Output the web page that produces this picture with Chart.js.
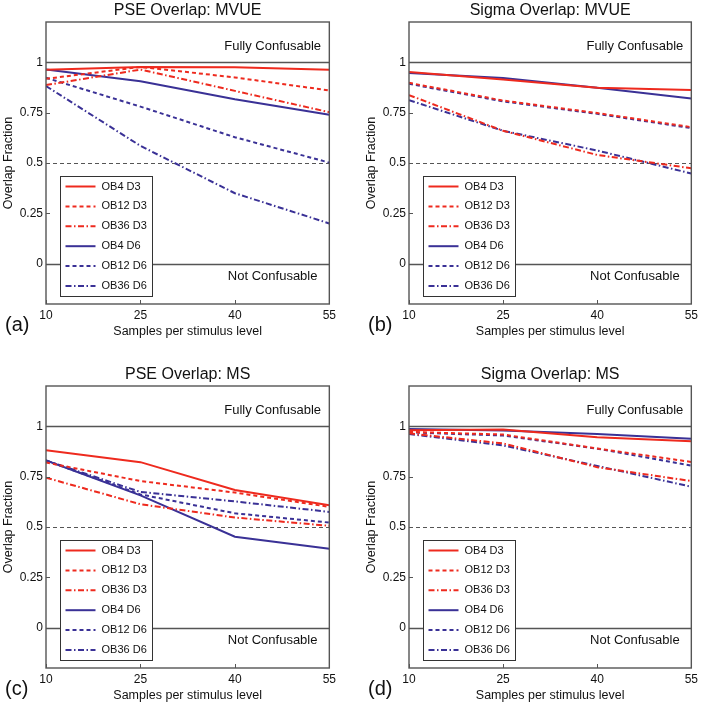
<!DOCTYPE html>
<html>
<head>
<meta charset="utf-8">
<script src="https://cdn.jsdelivr.net/npm/chart.js@4.4.1/dist/chart.umd.min.js"></script>
<style>
  body { margin: 0; background: #fff; }
  #wrap { position: relative; width: 702px; height: 708px; background: #fff; }
  canvas { position: absolute; }
</style>
</head>
<body>
<div id="wrap">
  <canvas id="pa" width="340" height="344" style="left:0px;top:0px"></canvas>
  <canvas id="pb" width="339" height="344" style="left:363px;top:0px"></canvas>
  <canvas id="pc" width="340" height="344" style="left:0px;top:364px"></canvas>
  <canvas id="pd" width="339" height="344" style="left:363px;top:364px"></canvas>
</div>
<script>
// samples per stimulus level
var xValues = [10, 25, 40, 55];
var yTickValues = [0, 0.25, 0.5, 0.75, 1];
var yTickLabels = ['0', '0.25', '0.5', '0.75', '1'];
var seriesNames = ['OB4 D3', 'OB12 D3', 'OB36 D3', 'OB4 D6', 'OB12 D6', 'OB36 D6'];

// (a) PSE Overlap: MVUE
var pseMvue = [
  [0.963, 0.977, 0.975, 0.963],
  [0.918, 0.977, 0.925, 0.86],
  [0.887, 0.964, 0.858, 0.752],
  [0.964, 0.906, 0.816, 0.74],
  [0.923, 0.78, 0.628, 0.502],
  [0.882, 0.585, 0.35, 0.2]
];
// (b) Sigma Overlap: MVUE
var sigmaMvue = [
  [0.952, 0.915, 0.873, 0.862],
  [0.898, 0.81, 0.748, 0.678],
  [0.837, 0.66, 0.54, 0.474],
  [0.947, 0.922, 0.873, 0.82],
  [0.893, 0.806, 0.744, 0.673],
  [0.812, 0.66, 0.562, 0.448]
];
// (c) PSE Overlap: MS
var pseMs = [
  [0.881, 0.822, 0.684, 0.608],
  [0.82, 0.728, 0.671, 0.6],
  [0.745, 0.613, 0.547, 0.506],
  [0.83, 0.657, 0.452, 0.392],
  [0.83, 0.662, 0.568, 0.522],
  [0.83, 0.674, 0.627, 0.575]
];
// (d) Sigma Overlap: MS
var sigmaMs = [
  [0.98, 0.984, 0.945, 0.926],
  [0.972, 0.959, 0.89, 0.823],
  [0.965, 0.915, 0.797, 0.728],
  [0.987, 0.979, 0.962, 0.938],
  [0.97, 0.954, 0.889, 0.805],
  [0.962, 0.905, 0.803, 0.70]
];

var RED = '#ee2a1e';
var BLUE = '#3a3196';
var colors = [RED, RED, RED, BLUE, BLUE, BLUE];
var dashes = [[], [4, 3], [6, 2.5, 1.5, 2.5], [], [4, 3], [6, 2.5, 1.5, 2.5]];

Chart.defaults.font.family = '"Liberation Sans", Arial, Helvetica, sans-serif';
Chart.defaults.color = '#111';

function line(ctx, x1, y1, x2, y2) {
  ctx.beginPath();
  ctx.moveTo(x1, y1);
  ctx.lineTo(x2, y2);
  ctx.stroke();
}

var decor = {
  id: 'decor',
  beforeDatasetsDraw: function (chart) {
    var ctx = chart.ctx, a = chart.chartArea, y = chart.scales.y;
    ctx.save();
    ctx.strokeStyle = '#555';
    ctx.lineWidth = 1.5;
    [1, 0].forEach(function (v) {
      var py = Math.round(y.getPixelForValue(v)) + 0.5;
      line(ctx, a.left, py, a.right, py);
    });
    ctx.setLineDash([4, 3]);
    ctx.lineWidth = 1.2;
    var ph = Math.round(y.getPixelForValue(0.5)) + 0.5;
    line(ctx, a.left, ph, a.right, ph);
    ctx.restore();
  },
  afterDatasetsDraw: function (chart, args, opts) {
    var ctx = chart.ctx, a = chart.chartArea, x = chart.scales.x, y = chart.scales.y;
    ctx.save();
    // box
    ctx.strokeStyle = '#555';
    ctx.lineWidth = 1.4;
    ctx.strokeRect(a.left, a.top, a.right - a.left, a.bottom - a.top);
    // inner ticks
    ctx.lineWidth = 1;
    yTickValues.forEach(function (v) {
      var py = Math.round(y.getPixelForValue(v)) + 0.5;
      line(ctx, a.left, py, a.left + 4, py);
    });
    xValues.forEach(function (v) {
      var px = Math.round(x.getPixelForValue(v)) + 0.5;
      line(ctx, px, a.bottom, px, a.bottom - 4);
    });
    // region notes
    ctx.fillStyle = '#111';
    ctx.font = '13px "Liberation Sans", Arial, sans-serif';
    ctx.textAlign = 'center';
    ctx.textBaseline = 'middle';
    ctx.fillText('Fully Confusable', x.getPixelForValue(46), y.getPixelForValue(1.078));
    ctx.fillText('Not Confusable', x.getPixelForValue(46), y.getPixelForValue(-0.065));
    // legend
    var L = { left: Math.round(a.left) + 14.5, top: Math.round(a.top) + 154.5, w: 92, h: 120 };
    ctx.fillStyle = '#fff';
    ctx.fillRect(L.left, L.top, L.w, L.h);
    ctx.strokeStyle = '#333';
    ctx.lineWidth = 1;
    ctx.strokeRect(L.left, L.top, L.w, L.h);
    ctx.font = '11px "Liberation Sans", Arial, sans-serif';
    ctx.textAlign = 'left';
    chart.data.datasets.forEach(function (ds, i) {
      var yy = L.top + 10 + i * 19.9;
      ctx.strokeStyle = ds.borderColor;
      ctx.lineWidth = 2;
      ctx.setLineDash(ds.borderDash || []);
      line(ctx, L.left + 5, yy, L.left + 35, yy);
      ctx.setLineDash([]);
      ctx.fillStyle = '#111';
      ctx.fillText(ds.label, L.left + 41, yy);
    });
    // panel tag
    ctx.font = '20px "Liberation Sans", Arial, sans-serif';
    ctx.fillText(opts.tag, 5, 325);
    ctx.restore();
  }
};

function makePanel(id, title, tag, series) {
  var datasets = series.map(function (vals, i) {
    return {
      label: seriesNames[i],
      data: vals.map(function (v, j) { return { x: xValues[j], y: v }; }),
      borderColor: colors[i],
      borderDash: dashes[i],
      borderWidth: 2,
      pointRadius: 0,
      tension: 0,
      fill: false
    };
  });
  return new Chart(document.getElementById(id), {
    type: 'line',
    data: { datasets: datasets },
    options: {
      responsive: false,
      animation: false,
      events: [],
      layout: { padding: { left: 0, right: 9, top: 0, bottom: 0 } },
      plugins: {
        legend: { display: false },
        tooltip: { enabled: false },
        title: {
          display: true,
          text: title,
          fullSize: false,
          color: '#111',
          font: { size: 16, weight: 'normal' },
          padding: { top: 1, bottom: 1.8 }
        },
        decor: { tag: tag }
      },
      scales: {
        x: {
          type: 'linear',
          min: 10,
          max: 55,
          afterBuildTicks: function (s) { s.ticks = xValues.map(function (v) { return { value: v }; }); },
          afterFit: function (s) { s.height = 40; },
          grid: { display: false, drawTicks: false, tickLength: 0 },
          border: { display: false },
          ticks: { padding: 4, font: { size: 12 }, maxRotation: 0, autoSkip: false, callback: function (v) { return String(v); } },
          title: { display: true, text: 'Samples per stimulus level', font: { size: 12.5 }, padding: { top: 0, bottom: 4.8 } }
        },
        y: {
          min: -0.2,
          max: 1.2,
          afterBuildTicks: function (s) { s.ticks = yTickValues.map(function (v) { return { value: v }; }); },
          afterFit: function (s) { s.width = 46; },
          grid: { display: false, drawTicks: false, tickLength: 0 },
          border: { display: false },
          ticks: { padding: 3, font: { size: 12 }, callback: function (v) { var k = yTickValues.indexOf(v); return k >= 0 ? yTickLabels[k] : ''; } },
          title: { display: true, text: 'Overlap Fraction', font: { size: 12.5 }, padding: { top: 1, bottom: 0 } }
        }
      }
    },
    plugins: [decor]
  });
}

makePanel('pa', 'PSE Overlap: MVUE', '(a)', pseMvue);
makePanel('pb', 'Sigma Overlap: MVUE', '(b)', sigmaMvue);
makePanel('pc', 'PSE Overlap: MS', '(c)', pseMs);
makePanel('pd', 'Sigma Overlap: MS', '(d)', sigmaMs);
</script>
</body>
</html>
